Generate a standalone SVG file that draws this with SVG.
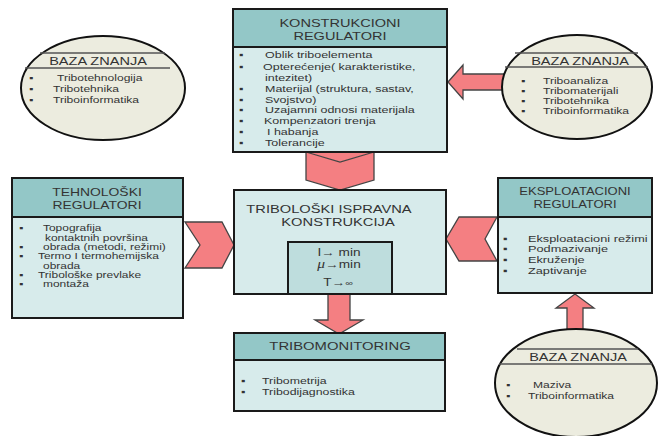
<svg xmlns="http://www.w3.org/2000/svg" width="658" height="436" viewBox="0 0 658 436">
<style>
text{font-family:"Liberation Sans",Arial,"DejaVu Sans",sans-serif;fill:#333}
.m{text-anchor:middle}
.box{stroke:#1a1a1a;stroke-width:2}
.hd{fill:#93c7c7}
.bd{fill:#d7ebeb}
.in{fill:#bedddd}
.el{fill:#ececdf;stroke:#111;stroke-width:2}
.ln{stroke:#555;stroke-width:1.5}
.ar{fill:#f47f82;stroke:#444;stroke-width:1.3;stroke-linejoin:miter}
.nf{fill:#f47f82;stroke:none}
</style>
<rect width="658" height="436" fill="#ffffff"/>

<g id="connectors">
  <polygon class="nf" points="306,152 374,152 340,162"/>
  <polygon class="ar" points="306,152 340,162 374,152 374,180 340,190 306,180"/>
  <polygon class="ar" points="185,222 222,222 234,245 222,268 185,268 200,245"/>
  <polygon class="ar" points="497,217 459,217 446,239 459,261 497,261 485,239"/>
  <polygon class="ar" points="328,294 350,294 350,320 363,320 339,334 315,320 328,320"/>
  <polygon class="ar" points="575,294 594,308 583,308 583,334 567,334 567,308 556,308"/>
  <polygon class="ar" points="448,82 463,65 463,74 508,74 508,90 463,90 463,99"/>
</g>

<g id="baza-left">
  <ellipse class="el" cx="103" cy="88" rx="82" ry="52"/>
  <line class="ln" x1="40" y1="53" x2="165" y2="53"/>
  <line class="ln" x1="25" y1="68" x2="170" y2="68"/>
  <text class="m" font-size="11.2" transform="matrix(1.3 0 0 1 98 65)">BAZA ZNANJA</text>
  <g font-size="9.3">
    <text transform="matrix(1.3 0 0 1 29 80.5)">▪</text>
    <text transform="matrix(1.3 0 0 1 57 80.5)">Tribotehnologija</text>
    <text transform="matrix(1.3 0 0 1 29 91.5)">▪</text>
    <text transform="matrix(1.3 0 0 1 53 91.5)">Tribotehnika</text>
    <text transform="matrix(1.3 0 0 1 29 102.5)">▪</text>
    <text transform="matrix(1.3 0 0 1 53 102.5)">Triboinformatika</text>
  </g>
</g>

<g id="konstrukcioni">
  <rect class="box bd" x="233" y="9" width="214" height="143"/>
  <rect class="box hd" x="233" y="9" width="214" height="38"/>
  <text class="m" font-size="11.2" transform="matrix(1.3 0 0 1 340 27)">KONSTRUKCIONI</text>
  <text class="m" font-size="11.2" transform="matrix(1.3 0 0 1 340 40)">REGULATORI</text>
  <g font-size="9.6">
    <text transform="matrix(1.3 0 0 1 239 58)">▪</text>
    <text transform="matrix(1.3 0 0 1 265 58)">Oblik triboelementa</text>
    <text transform="matrix(1.3 0 0 1 239 69.5)">▪</text>
    <text transform="matrix(1.3 0 0 1 263 69.5)">Opterećenje( karakteristike,</text>
    <text transform="matrix(1.3 0 0 1 265 80.5)">intezitet)</text>
    <text transform="matrix(1.3 0 0 1 239 91.5)">▪</text>
    <text transform="matrix(1.3 0 0 1 265 91.5)">Materijal (struktura, sastav,</text>
    <text transform="matrix(1.3 0 0 1 239 102.5)">▪</text>
    <text transform="matrix(1.3 0 0 1 265 102.5)">Svojstvo)</text>
    <text transform="matrix(1.3 0 0 1 239 113)">▪</text>
    <text transform="matrix(1.3 0 0 1 265 113)">Uzajamni odnosi materijala</text>
    <text transform="matrix(1.3 0 0 1 239 124)">▪</text>
    <text transform="matrix(1.3 0 0 1 264 124)">Kompenzatori trenja</text>
    <text transform="matrix(1.3 0 0 1 239 135)">▪</text>
    <text transform="matrix(1.3 0 0 1 267 135)">I habanja</text>
    <text transform="matrix(1.3 0 0 1 239 146)">▪</text>
    <text transform="matrix(1.3 0 0 1 265 146)">Tolerancije</text>
  </g>
</g>

<g id="baza-top-right">
  <ellipse class="el" cx="577" cy="87" rx="75" ry="52"/>
  <line class="ln" x1="515" y1="53" x2="638" y2="53"/>
  <line class="ln" x1="505" y1="67" x2="648" y2="67"/>
  <text class="m" font-size="11.2" transform="matrix(1.3 0 0 1 580 65)">BAZA ZNANJA</text>
  <g font-size="9.3">
    <text transform="matrix(1.3 0 0 1 521 83.5)">▪</text>
    <text transform="matrix(1.3 0 0 1 543 83.5)">Triboanaliza</text>
    <text transform="matrix(1.3 0 0 1 521 93.5)">▪</text>
    <text transform="matrix(1.3 0 0 1 543 93.5)">Tribomaterijali</text>
    <text transform="matrix(1.3 0 0 1 521 103.5)">▪</text>
    <text transform="matrix(1.3 0 0 1 543 103.5)">Tribotehnika</text>
    <text transform="matrix(1.3 0 0 1 521 113.5)">▪</text>
    <text transform="matrix(1.3 0 0 1 543 113.5)">Triboinformatika</text>
  </g>
</g>

<g id="tehnoloski">
  <rect class="box bd" x="12" y="178" width="171" height="140"/>
  <rect class="box hd" x="12" y="178" width="171" height="39"/>
  <text class="m" font-size="10.7" transform="matrix(1.3 0 0 1 97 196)">TEHNOLOŠKI</text>
  <text class="m" font-size="10.7" transform="matrix(1.3 0 0 1 97 209)">REGULATORI</text>
  <g font-size="9.2">
    <text transform="matrix(1.3 0 0 1 19 230.5)">▪</text>
    <text transform="matrix(1.3 0 0 1 43 230.5)">Topografija</text>
    <text transform="matrix(1.3 0 0 1 45 240.5)">kontaktnih površina</text>
    <text transform="matrix(1.3 0 0 1 19 249.5)">▪</text>
    <text transform="matrix(1.3 0 0 1 43 249.5)">obrada (metodi, režimi)</text>
    <text transform="matrix(1.3 0 0 1 19 258.5)">▪</text>
    <text transform="matrix(1.3 0 0 1 38 258.5)">Termo I termohemijska</text>
    <text transform="matrix(1.3 0 0 1 43 268.5)">obrada</text>
    <text transform="matrix(1.3 0 0 1 19 277.5)">▪</text>
    <text transform="matrix(1.3 0 0 1 38 277.5)">Tribološke prevlake</text>
    <text transform="matrix(1.3 0 0 1 19 286.5)">▪</text>
    <text transform="matrix(1.3 0 0 1 43 286.5)">montaža</text>
  </g>
</g>

<g id="ispravna-konstrukcija">
  <rect class="box bd" x="234" y="190" width="212" height="104"/>
  <text class="m" font-size="11.3" transform="matrix(1.3 0 0 1 329 213)">TRIBOLOŠKI ISPRAVNA</text>
  <text class="m" font-size="11.3" transform="matrix(1.3 0 0 1 338 226)">KONSTRUKCIJA</text>
  <rect class="box in" x="288" y="242" width="104" height="52"/>
  <text class="m" font-size="10.5" transform="matrix(1.3 0 0 1 339 256)">I→ min</text>
  <text class="m" font-size="10.5" transform="matrix(1.3 0 0 1 339 268)"><tspan font-family="Liberation Serif,serif" font-style="italic" font-size="12">μ</tspan>→min</text>
  <text class="m" font-size="10.5" transform="matrix(1.3 0 0 1 338 286)">T→<tspan font-size="8">∞</tspan></text>
</g>

<g id="eksploatacioni">
  <rect class="box bd" x="498" y="178" width="154" height="115"/>
  <rect class="box hd" x="498" y="178" width="154" height="39"/>
  <text class="m" font-size="10" transform="matrix(1.3 0 0 1 575 195)">EKSPLOATACIONI</text>
  <text class="m" font-size="10" transform="matrix(1.3 0 0 1 575 207.5)">REGULATORI</text>
  <g font-size="9.8">
    <text transform="matrix(1.3 0 0 1 503 241.5)">▪</text>
    <text transform="matrix(1.3 0 0 1 528 241.5)">Eksploatacioni režimi</text>
    <text transform="matrix(1.3 0 0 1 503 252)">▪</text>
    <text transform="matrix(1.3 0 0 1 528 252)">Podmazivanje</text>
    <text transform="matrix(1.3 0 0 1 503 263)">▪</text>
    <text transform="matrix(1.3 0 0 1 528 263)">Ekruženje</text>
    <text transform="matrix(1.3 0 0 1 503 274)">▪</text>
    <text transform="matrix(1.3 0 0 1 528 274)">Zaptivanje</text>
  </g>
</g>

<g id="tribomonitoring">
  <rect class="box bd" x="234" y="333" width="211" height="78"/>
  <rect class="box hd" x="234" y="333" width="211" height="27"/>
  <text class="m" font-size="11.4" transform="matrix(1.3 0 0 1 340 350)">TRIBOMONITORING</text>
  <g font-size="9.5">
    <text transform="matrix(1.3 0 0 1 241 383.5)">▪</text>
    <text transform="matrix(1.3 0 0 1 262 383.5)">Tribometrija</text>
    <text transform="matrix(1.3 0 0 1 241 394.5)">▪</text>
    <text transform="matrix(1.3 0 0 1 262 394.5)">Tribodijagnostika</text>
  </g>
</g>

<g id="baza-bottom-right">
  <ellipse class="el" cx="576" cy="383" rx="81" ry="54"/>
  <line class="ln" x1="517" y1="349" x2="638" y2="349"/>
  <line class="ln" x1="499" y1="364" x2="652" y2="364"/>
  <text class="m" font-size="11.2" transform="matrix(1.3 0 0 1 578 361)">BAZA ZNANJA</text>
  <g font-size="9.3">
    <text transform="matrix(1.3 0 0 1 506 387.5)">▪</text>
    <text transform="matrix(1.3 0 0 1 533 387.5)">Maziva</text>
    <text transform="matrix(1.3 0 0 1 506 398.5)">▪</text>
    <text transform="matrix(1.3 0 0 1 528 398.5)">Triboinformatika</text>
  </g>
</g>
</svg>
